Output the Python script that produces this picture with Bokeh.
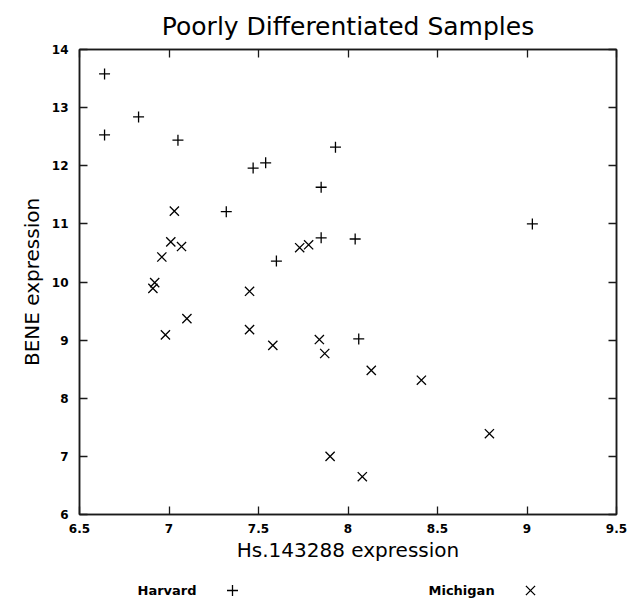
from bokeh.plotting import figure
from bokeh.models import LinearAxis, FixedTicker, Range1d
from bokeh.layouts import column
from bokeh.core.properties import value
from bokeh.embed import file_html
from bokeh.resources import INLINE

title_text = "Poorly Differentiated Samples"
x_label = "Hs.143288 expression"
y_label = "BENE expression"
series_names = ["Harvard", "Michigan"]
series_markers = ["cross", "x"]

harvard_x = [6.64, 6.64, 6.83, 7.05, 7.32, 7.47, 7.54, 7.93, 7.85, 7.85, 8.04, 7.60, 8.06, 9.03]
harvard_y = [13.58, 12.53, 12.84, 12.44, 11.21, 11.96, 12.05, 12.32, 11.63, 10.76, 10.74, 10.36, 9.02, 11.00]

michigan_x = [7.03, 7.01, 7.07, 6.96, 6.92, 6.91, 7.45, 7.73, 7.78, 7.10, 6.98, 7.45,
              7.58, 7.84, 7.87, 8.13, 8.41, 8.79, 7.90, 8.08]
michigan_y = [11.22, 10.69, 10.61, 10.43, 9.99, 9.89, 9.84, 10.59, 10.64, 9.37, 9.09, 9.18,
              8.91, 9.01, 8.77, 8.48, 8.31, 7.39, 7.00, 6.65]

x_ticks = [6.5, 7, 7.5, 8, 8.5, 9, 9.5]
x_tick_labels = ["6.5", "7", "7.5", "8", "8.5", "9", "9.5"]
y_ticks = [6, 7, 8, 9, 10, 11, 12, 13, 14]
y_tick_labels = ["6", "7", "8", "9", "10", "11", "12", "13", "14"]

FONT = "DejaVu Sans"
AXIS_COLOR = "#1a1a1a"
MARKER_SIZES = {"cross": 11, "x": 13}
FRAME_L, FRAME_W, FRAME_T, FRAME_H = 79, 537, 49, 465
BORDER_R = 12

p = figure(
    frame_width=FRAME_W, frame_height=FRAME_H,
    min_border_left=FRAME_L, min_border_right=BORDER_R, min_border_top=FRAME_T, min_border_bottom=60,
    x_range=Range1d(x_ticks[0], x_ticks[-1]), y_range=Range1d(y_ticks[0], y_ticks[-1]),
    output_backend="svg", toolbar_location=None,
    x_axis_label=x_label, y_axis_label=y_label, title=title_text,
)
p.background_fill_color = "white"
p.border_fill_color = "white"
p.outline_line_color = AXIS_COLOR
p.outline_line_width = 1.5
p.xgrid.visible = False
p.ygrid.visible = False

p.title.align = "center"
p.title.text_font = FONT
p.title.text_font_size = "25px"
p.title.text_font_style = "normal"
p.title.text_color = "black"
p.title.standoff = 18


def style_axis(ax, ticks, labels, show_labels):
    ax.ticker = FixedTicker(ticks=ticks)
    ax.major_tick_in = 8
    ax.major_tick_out = 0
    ax.minor_tick_in = 0
    ax.minor_tick_out = 0
    ax.major_tick_line_color = AXIS_COLOR
    ax.major_tick_line_width = 1.3
    ax.axis_line_color = AXIS_COLOR
    ax.axis_line_width = 1.5
    if show_labels:
        ax.major_label_overrides = {t: l for t, l in zip(ticks, labels)}
        ax.major_label_text_font = FONT
        ax.major_label_text_font_style = "bold"
        ax.major_label_text_font_size = "12px"
        ax.major_label_text_color = "black"
        ax.axis_label_text_font = FONT
        ax.axis_label_text_font_size = "20px"
        ax.axis_label_text_font_style = "normal"
        ax.axis_label_text_color = "black"
    else:
        ax.major_label_overrides = {t: "" for t in ticks}
        ax.major_label_standoff = 0


xa = p.xaxis[0]
ya = p.yaxis[0]
style_axis(xa, x_ticks, x_tick_labels, True)
style_axis(ya, y_ticks, y_tick_labels, True)
xa.major_label_standoff = 9
xa.axis_label_standoff = 2
ya.major_label_standoff = 11
ya.axis_label_standoff = 5

top_axis = LinearAxis()
style_axis(top_axis, x_ticks, x_tick_labels, False)
p.add_layout(top_axis, "above")
right_axis = LinearAxis()
style_axis(right_axis, y_ticks, y_tick_labels, False)
p.add_layout(right_axis, "right")

p.scatter(harvard_x, harvard_y, marker=series_markers[0], size=MARKER_SIZES["cross"],
          line_color="black", line_width=1.3)
p.scatter(michigan_x, michigan_y, marker=series_markers[1], size=MARKER_SIZES["x"],
          line_color="black", line_width=1.3)

# legend strip below the plot: label first, then its symbol (as in the reference).
# Its frame is aligned with the main frame, so its x range is set in page pixels.
LEG_H = 27
leg = figure(frame_width=FRAME_W, frame_height=LEG_H,
             min_border_left=FRAME_L, min_border_right=BORDER_R, min_border_top=0, min_border_bottom=0,
             x_range=Range1d(FRAME_L, FRAME_L + FRAME_W), y_range=Range1d(0, LEG_H),
             x_axis_type=None, y_axis_type=None, output_backend="svg", toolbar_location=None)
leg.outline_line_color = None
leg.xgrid.visible = False
leg.ygrid.visible = False
leg_text_x = [137, 428]
leg_mark_x = [232, 530]
leg_y = [11, 11]
leg.text(x=leg_text_x, y=leg_y, text=series_names, text_font=value(FONT),
         text_font_style="bold", text_font_size="13px", text_baseline="middle",
         text_align="left", text_color="black")
for mx, my, mk in zip(leg_mark_x, leg_y, series_markers):
    leg.scatter([mx], [my], marker=mk, size=MARKER_SIZES[mk], line_color="black", line_width=1.3)

layout = column(p, leg, spacing=0)
open("out.html", "w").write(file_html(layout, INLINE))
